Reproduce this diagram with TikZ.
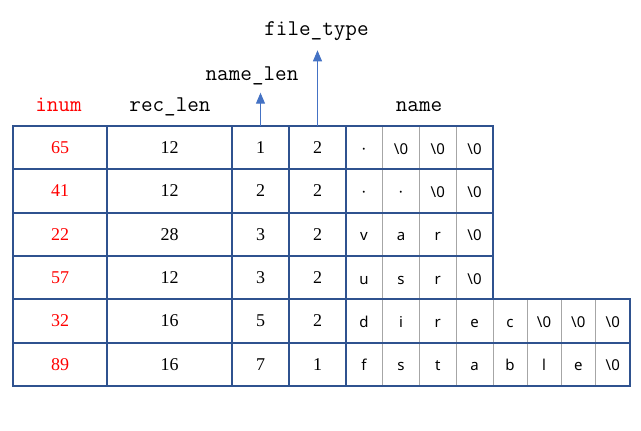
\documentclass[tikz,border=0pt]{standalone}
\usepackage{fontspec}
\setmainfont{Liberation Serif}
\setsansfont{Noto Sans}
\setmonofont{Latin Modern Mono}
\usetikzlibrary{arrows.meta}
\definecolor{tblue}{HTML}{2F528F}
\definecolor{agrey}{HTML}{A6A6A6}
\definecolor{arrblue}{HTML}{4472C4}
\definecolor{ired}{HTML}{FF0000}
\newcommand\bszero{\textbackslash0}
\begin{document}
\begin{tikzpicture}[x=1pt,y=-1pt,
  hdr/.style={font=\fontsize{22.5}{24}\selectfont\ttfamily, anchor=base, inner sep=0pt},
  num/.style={font=\fontsize{18}{20}\selectfont\rmfamily, inner sep=0pt, minimum height=43.3pt},
  chr/.style={font=\fontsize{15}{18}\selectfont\sffamily, inner sep=0pt, anchor=base},
  bline/.style={draw=tblue, line width=2pt, line cap=rect},
  gline/.style={draw=agrey, line width=0.8pt},
  up/.style={draw=arrblue, line width=1pt, -{Triangle[width=9pt,length=11pt]}}]
\useasboundingbox (0,0) rectangle (641,431);
% grey inner lines
\foreach \x in {382.5,419.5,456} \draw[gline] (\x,126) -- (\x,386);
\foreach \x in {493,527,561,595.5} \draw[gline] (\x,299.3) -- (\x,386);
% blue lines
\foreach \y in {169.3,212.7,256} \draw[bline] (13,\y) -- (493,\y);
\draw[bline] (13,342.7) -- (630,342.7);
\draw[bline] (13,299.3) -- (630,299.3);
\foreach \x in {107,232,289,346} \draw[bline] (\x,126) -- (\x,386);
\draw[bline, line join=miter] (13,126) -- (493,126) -- (493,299.3) -- (630,299.3) -- (630,386) -- (13,386) -- cycle;
% headers
\node[hdr, text=ired] (hinum) at (58.5,111.5) {inum};
\node[hdr] (hrec) at (170,111.5) {rec\_len};
\node[hdr] (hname) at (419,111.5) {name};
\node[hdr] (hnl) at (252,80) {name\_len};
\node[hdr] (hft) at (316.5,35) {file\_type};
% data
\foreach \i/\a/\b/\c/\d/\n in {
  1/65/12/1/2/{·,\bszero,\bszero,\bszero},
  2/41/12/2/2/{·,·,\bszero,\bszero},
  3/22/28/3/2/{v,a,r,\bszero},
  4/57/12/3/2/{u,s,r,\bszero},
  5/32/16/5/2/{d,i,r,e,c,\bszero,\bszero,\bszero},
  6/89/16/7/1/{f,s,t,a,b,l,e,\bszero}}{
  \pgfmathsetmacro\yy{126+43.333*(\i-0.5)}
  \pgfmathsetmacro\yb{\yy+6.5}
  \node[num, text=ired, minimum width=94pt] (c-\i-1) at (60,\yy) {\a};
  \node[num, minimum width=125pt] (c-\i-2) at (169.5,\yy) {\b};
  \node[num, minimum width=57pt] (c-\i-3) at (260.5,\yy) {\c};
  \node[num, minimum width=57pt] (c-\i-4) at (317.5,\yy) {\d};
  \foreach \ch [count=\k] in \n {
    \pgfmathsetmacro\xx{{364,401,437.75,474.5,510,544,578.25,612.75}[\k-1]}
    \node[chr] (n-\i-\k) at (\xx,\yb) {\ch};
  }
}
% arrows
\draw[up, shorten >=8pt] (c-1-3.north) -- (c-1-3.north |- hnl.south);
\draw[up, shorten >=10pt] (c-1-4.north) -- (c-1-4.north |- hft.south);
\end{tikzpicture}
\end{document}
